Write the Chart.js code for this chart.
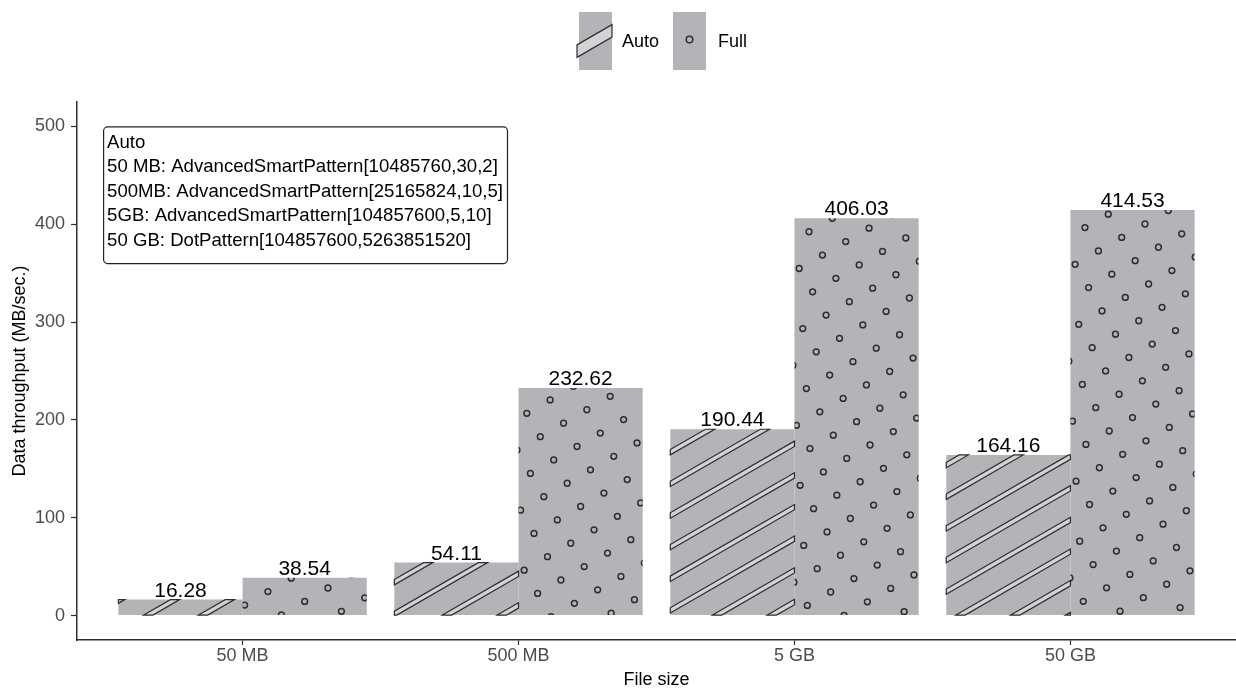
<!DOCTYPE html>
<html>
<head>
<meta charset="utf-8">
<script src="https://cdn.jsdelivr.net/npm/chart.js@4.4.1/dist/chart.umd.min.js"></script>
<style>
  html, body { margin: 0; padding: 0; background: #fff; }
  #wrap { width: 1236px; height: 689px; }
</style>
</head>
<body>
<div id="wrap"><canvas id="chart" width="1236" height="689"></canvas></div>
<script>
const categories = ["50 MB", "500 MB", "5 GB", "50 GB"];
const seriesNames = ["Auto", "Full"];
const autoValues = [16.28, 54.11, 190.44, 164.16];
const fullValues = [38.54, 232.62, 406.03, 414.53];
const yTicks = [0, 100, 200, 300, 400, 500];
const noteLines = [
  "Auto",
  "50 MB: AdvancedSmartPattern[10485760,30,2]",
  "500MB: AdvancedSmartPattern[25165824,10,5]",
  "5GB: AdvancedSmartPattern[104857600,5,10]",
  "50 GB: DotPattern[104857600,5263851520]"
];

const FONT = "'Liberation Sans', Arial, sans-serif";
const BAR_GREY = "#b2b4b8";
const STRIPE_FILL = "#d2d3d5";
const INK = "#2e2e2e";
const ANGLE = 30 * Math.PI / 180;

Chart.defaults.font.family = FONT;

// clip a convex polygon to a rectangle (Sutherland-Hodgman)
function clipPoly(pts, l, t, r, b) {
  const edges = [
    [p => p[0] >= l, (a, c) => { const k = (l - a[0]) / (c[0] - a[0]); return [l, a[1] + k * (c[1] - a[1])]; }],
    [p => p[0] <= r, (a, c) => { const k = (r - a[0]) / (c[0] - a[0]); return [r, a[1] + k * (c[1] - a[1])]; }],
    [p => p[1] >= t, (a, c) => { const k = (t - a[1]) / (c[1] - a[1]); return [a[0] + k * (c[0] - a[0]), t]; }],
    [p => p[1] <= b, (a, c) => { const k = (b - a[1]) / (c[1] - a[1]); return [a[0] + k * (c[0] - a[0]), b]; }]
  ];
  let out = pts;
  for (const [inside, cut] of edges) {
    const src = out;
    out = [];
    for (let i = 0; i < src.length; i++) {
      const cur = src[i], prev = src[(i + src.length - 1) % src.length];
      if (inside(cur)) {
        if (!inside(prev)) out.push(cut(prev, cur));
        out.push(cur);
      } else if (inside(prev)) {
        out.push(cut(prev, cur));
      }
    }
    if (!out.length) break;
  }
  return out;
}

function drawStripes(ctx, l, t, r, b, spacing, half, phase) {
  const cx = (l + r) / 2, cy = (t + b) / 2;
  const u = [Math.cos(ANGLE), -Math.sin(ANGLE)];
  const n = [Math.sin(ANGLE), Math.cos(ANGLE)];
  const L = Math.hypot(r - l, b - t) + 10;
  const N = Math.ceil(L / spacing) + 1;
  ctx.save();
  ctx.lineWidth = 1.2;
  ctx.strokeStyle = INK;
  ctx.fillStyle = STRIPE_FILL;
  ctx.lineJoin = "miter";
  for (let k = -N; k <= N; k++) {
    const off = k * spacing + phase;
    const a = [cx + n[0] * (off - half), cy + n[1] * (off - half)];
    const c = [cx + n[0] * (off + half), cy + n[1] * (off + half)];
    const quad = [
      [a[0] - u[0] * L, a[1] - u[1] * L],
      [a[0] + u[0] * L, a[1] + u[1] * L],
      [c[0] + u[0] * L, c[1] + u[1] * L],
      [c[0] - u[0] * L, c[1] - u[1] * L]
    ];
    const poly = clipPoly(quad, l, t, r, b);
    if (poly.length < 3) continue;
    ctx.beginPath();
    poly.forEach((p, i) => i ? ctx.lineTo(p[0], p[1]) : ctx.moveTo(p[0], p[1]));
    ctx.closePath();
    ctx.fill();
    ctx.stroke();
  }
  ctx.restore();
}

function drawDots(ctx, l, t, r, b, spacing, radius, dx, dy) {
  const cx = (l + r) / 2 + dx, cy = (t + b) / 2 + dy;
  const a = [spacing * Math.cos(ANGLE), -spacing * Math.sin(ANGLE)];
  const c = [spacing * Math.sin(ANGLE), spacing * Math.cos(ANGLE)];
  const N = Math.ceil(Math.hypot(r - l, b - t) / spacing) + 1;
  ctx.save();
  ctx.beginPath();
  ctx.rect(l, t, r - l, b - t);
  ctx.clip();
  ctx.lineWidth = 1.5;
  ctx.strokeStyle = INK;
  for (let i = -N; i <= N; i++) {
    for (let j = -N; j <= N; j++) {
      const x = cx + i * a[0] + j * c[0];
      const y = cy + i * a[1] + j * c[1];
      if (x < l - 5 || x > r + 5 || y < t - 5 || y > b + 5) continue;
      ctx.beginPath();
      ctx.arc(x, y, radius, 0, Math.PI * 2);
      ctx.stroke();
    }
  }
  ctx.restore();
}

const patternPlugin = {
  id: "patterns",
  afterDatasetsDraw(chart) {
    const ctx = chart.ctx;
    chart.data.datasets.forEach((ds, di) => {
      const meta = chart.getDatasetMeta(di);
      meta.data.forEach((bar, i) => {
        const p = bar.getProps(["x", "y", "base", "width"], true);
        const l = p.x - p.width / 2, r = p.x + p.width / 2;
        const t = Math.min(p.y, p.base), b = Math.max(p.y, p.base);
        if (di === 0) drawStripes(ctx, l, t, r, b, 27.4, 2.3, 18);
        else drawDots(ctx, l, t, r, b, 26.9, 2.9, 0, 5);
      });
    });
    // value labels
    ctx.save();
    ctx.font = "21px " + FONT;
    ctx.fillStyle = "#000";
    ctx.textAlign = "center";
    ctx.textBaseline = "alphabetic";
    chart.data.datasets.forEach((ds, di) => {
      const meta = chart.getDatasetMeta(di);
      meta.data.forEach((bar, i) => {
        const p = bar.getProps(["x", "y"], true);
        ctx.fillText(ds.data[i].y.toFixed(2), p.x, p.y - 3);
      });
    });
    ctx.restore();
  },
  afterDraw(chart) {
    const ctx = chart.ctx;
    // legend
    ctx.save();
    ctx.fillStyle = BAR_GREY;
    ctx.fillRect(579, 12, 33, 58);
    drawStripes(ctx, 577, 12, 612, 70, 1000, 5.4, 0);
    ctx.fillStyle = BAR_GREY;
    ctx.fillRect(673, 12, 33, 58);
    ctx.beginPath();
    ctx.arc(689.5, 39.5, 3.3, 0, Math.PI * 2);
    ctx.lineWidth = 1.5;
    ctx.strokeStyle = INK;
    ctx.stroke();
    ctx.font = "18px " + FONT;
    ctx.fillStyle = "#000";
    ctx.textBaseline = "alphabetic";
    ctx.fillText(seriesNames[0], 622, 47);
    ctx.fillText(seriesNames[1], 718, 47);
    ctx.restore();

    // annotation label
    const xs = chart.scales.x, ys = chart.scales.y;
    const left = xs.getPixelForValue(-0.5) - 1.5;
    const top = ys.getPixelForValue(500);
    ctx.save();
    ctx.font = "18.6px " + FONT;
    const w = Math.max(...noteLines.map(s => ctx.measureText(s).width)) + 8;
    const lineH = 24.4;
    const h = 21.5 + (noteLines.length - 1) * lineH + 17.5;
    ctx.beginPath();
    ctx.roundRect(left + 0.5, top + 0.5, w, h, 4);
    ctx.fillStyle = "#fff";
    ctx.fill();
    ctx.lineWidth = 1.2;
    ctx.strokeStyle = "#222";
    ctx.stroke();
    ctx.fillStyle = "#000";
    ctx.textBaseline = "alphabetic";
    noteLines.forEach((s, i) => ctx.fillText(s, left + 4, top + 21.5 + i * lineH));
    ctx.restore();
  }
};

new Chart(document.getElementById("chart"), {
  type: "bar",
  data: {
    datasets: [
      {
        label: seriesNames[0],
        data: autoValues.map((v, i) => ({ x: i, y: v })),
        backgroundColor: BAR_GREY,
        borderWidth: 0
      },
      {
        label: seriesNames[1],
        data: fullValues.map((v, i) => ({ x: i, y: v })),
        backgroundColor: BAR_GREY,
        borderWidth: 0
      }
    ]
  },
  options: {
    responsive: false,
    animation: false,
    devicePixelRatio: 1,
    layout: { padding: { top: 102, left: 0, right: 0, bottom: 0 } },
    datasets: { bar: { categoryPercentage: 0.9, barPercentage: 1.0 } },
    plugins: { legend: { display: false }, tooltip: { enabled: false } },
    scales: {
      x: {
        type: "linear",
        min: -0.6,
        max: 3.6,
        offset: false,
        afterBuildTicks: s => { s.ticks = categories.map((c, i) => ({ value: i })); },
        afterFit: s => { s.height = 49; },
        ticks: {
          callback: v => categories[v],
          color: "#4d4d4d",
          font: { size: 18, lineHeight: 1 },
          padding: 2,
          maxRotation: 0
        },
        grid: { drawOnChartArea: false, offset: false, tickLength: 5, color: INK, tickWidth: 1.2 },
        border: { color: INK, width: 1.5 },
        title: { display: true, text: "File size", color: "#000", font: { size: 18, lineHeight: 1 }, padding: { top: 0, bottom: 0 } }
      },
      y: {
        min: -25,
        max: 525,
        afterBuildTicks: s => { s.ticks = yTicks.map(v => ({ value: v })); },
        afterFit: s => { s.width = 77; },
        ticks: { color: "#4d4d4d", font: { size: 18 }, padding: 6 },
        grid: { drawOnChartArea: false, tickLength: 6, color: INK, tickWidth: 1.2 },
        border: { color: INK, width: 1.5 },
        title: { display: true, text: "Data throughput (MB/sec.)", color: "#000", font: { size: 18, lineHeight: 1 }, padding: { top: 11, bottom: 0 } }
      }
    }
  },
  plugins: [patternPlugin]
});
</script>
</body>
</html>
